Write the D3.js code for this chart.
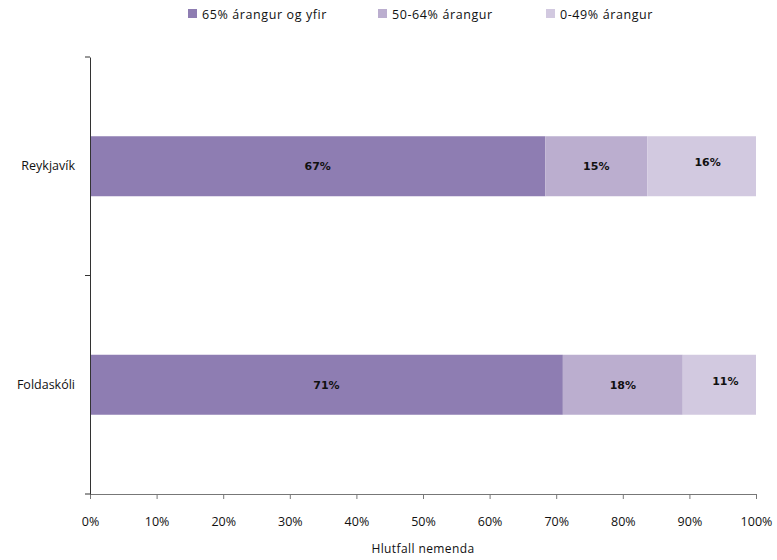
<!DOCTYPE html>
<html><head><meta charset="utf-8">
<script src="https://d3js.org/d3.v7.min.js"></script>
<style>body{margin:0;background:#fff}svg{display:block}</style>
</head><body>
<svg id="c" width="777" height="560"></svg>
<script>
const categories = ["Reykjavík", "Foldaskóli"];
const seriesNames = ["65% árangur og yfir", "50-64% árangur", "0-49% árangur"];
const s1 = [67, 71];
const s2 = [15, 18];
const s3 = [16, 11];
const xTicks = [0, 0.1, 0.2, 0.3, 0.4, 0.5, 0.6, 0.7, 0.8, 0.9, 1.0];
const colors = ["#8e7db2", "#bbaecf", "#d2c9e0"];

const svg = d3.select("#c");
const font = "'Open Sans', sans-serif";
const m = {l: 90, r: 21, t: 57, b: 66};
const W = 777, H = 560;
const x = d3.scaleLinear().domain([0, 1]).range([m.l, W - m.r]);
const y = d3.scaleBand().domain(categories).range([m.t, H - m.b]);
const barH = 60;

const rows = categories.map((c, i) => {
  const vals = [s1[i], s2[i], s3[i]];
  const tot = d3.sum(vals);
  let acc = 0;
  return vals.map((v, k) => { const s = acc / tot; acc += v; return {c, k, v, x0: s, x1: acc / tot}; });
}).flat();

svg.selectAll("rect.bar").data(rows).join("rect").attr("class", "bar")
  .attr("x", d => x(d.x0)).attr("width", d => x(d.x1) - x(d.x0))
  .attr("y", d => y(d.c) + y.bandwidth() / 2 - barH / 2).attr("height", barH)
  .attr("fill", d => colors[d.k]);

svg.selectAll("text.lab").data(rows).join("text").attr("class", "lab")
  .attr("x", d => (x(d.x0) + x(d.x1)) / 2 + (d.k === 2 ? 6 : 0))
  .attr("y", d => y(d.c) + y.bandwidth() / 2 + 4 - (d.k === 2 ? 4 : 0))
  .attr("text-anchor", "middle").attr("font-family", "Verdana, 'DejaVu Sans', sans-serif")
  .attr("font-weight", "bold").attr("font-size", 11).attr("fill", "#111")
  .text(d => d.v + "%");

// x axis
const xa = svg.append("g").attr("transform", `translate(0,${H - m.b})`)
  .call(d3.axisBottom(x).tickValues(xTicks).tickFormat(d3.format(".0%")).tickSizeInner(5).tickSizeOuter(0));
xa.select(".domain").attr("stroke", "#777");
xa.selectAll(".tick line").attr("stroke", "#777");
xa.selectAll(".tick text").attr("font-family", font).attr("font-size", 12.5).attr("fill", "#111").attr("dy", "1.9em");

// y axis
const ya = svg.append("g").attr("transform", `translate(${m.l},0)`)
  .call(d3.axisLeft(y).tickSize(0).tickPadding(15));
ya.select(".domain").attr("stroke", "#333");
ya.selectAll(".tick text").attr("font-family", font).attr("font-size", 12.5).attr("fill", "#111");
const yEdges = [m.t, m.t + y.bandwidth(), H - m.b];
svg.selectAll("line.yt").data(yEdges).join("line").attr("class", "yt")
  .attr("x1", m.l - 5).attr("x2", m.l).attr("y1", d => d).attr("y2", d => d).attr("stroke", "#333");

svg.append("text").attr("x", 423).attr("y", 553).attr("text-anchor", "middle")
  .attr("font-family", font).attr("font-size", 12).attr("letter-spacing", 0.4).attr("fill", "#111").text("Hlutfall nemenda");

// legend
const legX = [188, 378, 546];
const lg = svg.selectAll("g.leg").data(seriesNames).join("g").attr("class", "leg")
  .attr("transform", (d, i) => `translate(${legX[i]},9)`);
lg.append("rect").attr("width", 9).attr("height", 9).attr("fill", (d, i) => colors[i]);
lg.append("text").attr("x", 14).attr("y", 9.5).attr("font-family", font).attr("font-size", 12.5)
  .attr("letter-spacing", 0.6).attr("fill", "#111").text(d => d);
</script>
</body></html>
